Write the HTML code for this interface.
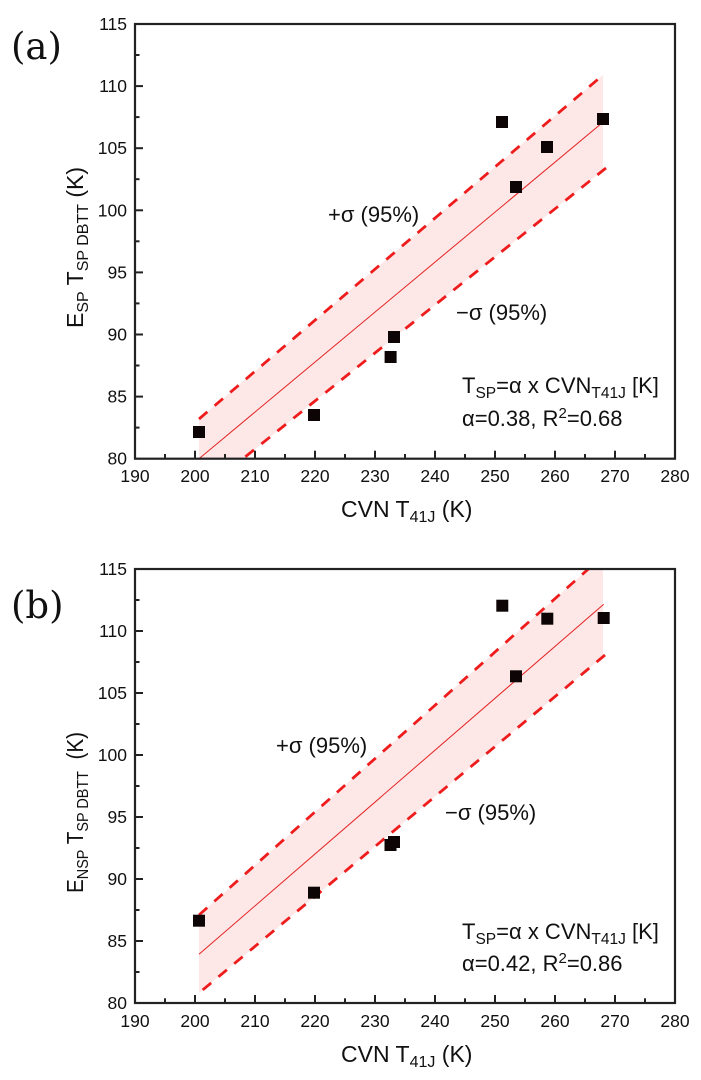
<!DOCTYPE html>
<html><head><meta charset="utf-8"><style>
html,body{margin:0;padding:0;background:#fff;}
svg{display:block;}
text{font-family:"Liberation Sans",Arial,sans-serif;fill:#111;}
</style></head><body>
<svg width="701" height="1080" viewBox="0 0 701 1080" xmlns="http://www.w3.org/2000/svg">
<defs>
<clipPath id="ca"><rect x="135" y="24" width="540" height="434.7"/></clipPath>
<clipPath id="cb"><rect x="135" y="569" width="540" height="434"/></clipPath>
</defs>

<!-- ============ PANEL A ============ -->
<g clip-path="url(#ca)">
  <polygon points="199,419 603,75 603,170.4 199,493.9" fill="#fde7e7"/>
  <line x1="199" y1="458.7" x2="602" y2="123" stroke="#e52222" stroke-width="1"/>
  <line x1="199" y1="419" x2="603" y2="75" stroke="#ee1c1c" stroke-width="2.8" stroke-dasharray="11 9.5"/>
  <line x1="606" y1="168" x2="199" y2="493.9" stroke="#ee1c1c" stroke-width="2.8" stroke-dasharray="11 9.5"/>
</g>
<g fill="#0d0505">
  <rect x="193" y="426" width="12" height="12"/>
  <rect x="308" y="409" width="12" height="12"/>
  <rect x="384.6" y="351" width="12" height="12"/>
  <rect x="388" y="331" width="12" height="12"/>
  <rect x="496" y="116" width="12" height="12"/>
  <rect x="510" y="181" width="12" height="12"/>
  <rect x="541" y="141" width="12" height="12"/>
  <rect x="597" y="113" width="12" height="12"/>
</g>
<rect x="135" y="24" width="540" height="434.7" fill="none" stroke="#222" stroke-width="2.2"/>
<g stroke="#222" stroke-width="2">
  <line x1="135" y1="86.1" x2="143" y2="86.1"/>
  <line x1="135" y1="148.2" x2="143" y2="148.2"/>
  <line x1="135" y1="210.3" x2="143" y2="210.3"/>
  <line x1="135" y1="272.4" x2="143" y2="272.4"/>
  <line x1="135" y1="334.5" x2="143" y2="334.5"/>
  <line x1="135" y1="396.6" x2="143" y2="396.6"/>
  <line x1="135" y1="55" x2="139.5" y2="55"/>
  <line x1="135" y1="117.1" x2="139.5" y2="117.1"/>
  <line x1="135" y1="179.2" x2="139.5" y2="179.2"/>
  <line x1="135" y1="241.3" x2="139.5" y2="241.3"/>
  <line x1="135" y1="303.4" x2="139.5" y2="303.4"/>
  <line x1="135" y1="365.5" x2="139.5" y2="365.5"/>
  <line x1="135" y1="427.6" x2="139.5" y2="427.6"/>
  <line x1="195" y1="458.7" x2="195" y2="450.7"/>
  <line x1="255" y1="458.7" x2="255" y2="450.7"/>
  <line x1="315" y1="458.7" x2="315" y2="450.7"/>
  <line x1="375" y1="458.7" x2="375" y2="450.7"/>
  <line x1="435" y1="458.7" x2="435" y2="450.7"/>
  <line x1="495" y1="458.7" x2="495" y2="450.7"/>
  <line x1="555" y1="458.7" x2="555" y2="450.7"/>
  <line x1="615" y1="458.7" x2="615" y2="450.7"/>
  <line x1="165" y1="458.7" x2="165" y2="454"/>
  <line x1="225" y1="458.7" x2="225" y2="454"/>
  <line x1="285" y1="458.7" x2="285" y2="454"/>
  <line x1="345" y1="458.7" x2="345" y2="454"/>
  <line x1="405" y1="458.7" x2="405" y2="454"/>
  <line x1="465" y1="458.7" x2="465" y2="454"/>
  <line x1="525" y1="458.7" x2="525" y2="454"/>
  <line x1="585" y1="458.7" x2="585" y2="454"/>
  <line x1="645" y1="458.7" x2="645" y2="454"/>
</g>
<g font-size="17.5" text-anchor="end">
  <text x="127" y="30">115</text>
  <text x="127" y="92.1">110</text>
  <text x="127" y="154.2">105</text>
  <text x="127" y="216.3">100</text>
  <text x="127" y="278.4">95</text>
  <text x="127" y="340.5">90</text>
  <text x="127" y="402.6">85</text>
  <text x="127" y="464.7">80</text>
</g>
<g font-size="17.5" text-anchor="middle">
  <text x="135" y="482">190</text>
  <text x="195" y="482">200</text>
  <text x="255" y="482">210</text>
  <text x="315" y="482">220</text>
  <text x="375" y="482">230</text>
  <text x="435" y="482">240</text>
  <text x="495" y="482">250</text>
  <text x="555" y="482">260</text>
  <text x="615" y="482">270</text>
  <text x="675" y="482">280</text>
</g>
<text x="11" y="59" font-size="37" style="font-family:'DejaVu Serif','Liberation Serif',serif">(a)</text>
<text x="341" y="517" font-size="23">CVN T<tspan font-size="16" dy="5">41J</tspan><tspan dy="-5"> (K)</tspan></text>
<text transform="translate(83,328) rotate(-90)" x="0" y="0" font-size="23">E<tspan font-size="16" dy="5">SP</tspan><tspan dy="-5"> T</tspan><tspan font-size="16" dy="5">SP DBTT</tspan><tspan dy="-5"> (K)</tspan></text>
<text x="328" y="222" font-size="22">+σ (95%)</text>
<text x="456" y="320" font-size="22">−σ (95%)</text>
<text x="462" y="393" font-size="22">T<tspan font-size="15.5" dy="5">SP</tspan><tspan dy="-5">=α x CVN</tspan><tspan font-size="15.5" dy="5">T41J</tspan><tspan dy="-5"> [K]</tspan></text>
<text x="462" y="426" font-size="22">α=0.38, R<tspan font-size="15" dy="-8">2</tspan><tspan dy="8">=0.68</tspan></text>

<!-- ============ PANEL B ============ -->
<g clip-path="url(#cb)">
  <polygon points="199,915 603,556 603,656.7 199,993" fill="#fde7e7"/>
  <line x1="199" y1="954.3" x2="603.7" y2="604.3" stroke="#e52222" stroke-width="1"/>
  <line x1="199" y1="915" x2="603" y2="556" stroke="#ee1c1c" stroke-width="2.8" stroke-dasharray="11 9.5"/>
  <line x1="605" y1="655" x2="199" y2="993" stroke="#ee1c1c" stroke-width="2.8" stroke-dasharray="11 9.5"/>
</g>
<g fill="#0d0505">
  <rect x="193" y="914.7" width="12" height="12"/>
  <rect x="308" y="886.7" width="12" height="12"/>
  <rect x="384.5" y="839" width="12" height="12"/>
  <rect x="388" y="836" width="12" height="12"/>
  <rect x="496.3" y="599.7" width="12" height="12"/>
  <rect x="510" y="670.3" width="12" height="12"/>
  <rect x="541.3" y="612.7" width="12" height="12"/>
  <rect x="597.7" y="612" width="12" height="12"/>
</g>
<rect x="135" y="569" width="540" height="434" fill="none" stroke="#222" stroke-width="2.2"/>
<g stroke="#222" stroke-width="2">
  <line x1="135" y1="631" x2="143" y2="631"/>
  <line x1="135" y1="693" x2="143" y2="693"/>
  <line x1="135" y1="755" x2="143" y2="755"/>
  <line x1="135" y1="817" x2="143" y2="817"/>
  <line x1="135" y1="879" x2="143" y2="879"/>
  <line x1="135" y1="941" x2="143" y2="941"/>
  <line x1="135" y1="600" x2="139.5" y2="600"/>
  <line x1="135" y1="662" x2="139.5" y2="662"/>
  <line x1="135" y1="724" x2="139.5" y2="724"/>
  <line x1="135" y1="786" x2="139.5" y2="786"/>
  <line x1="135" y1="848" x2="139.5" y2="848"/>
  <line x1="135" y1="910" x2="139.5" y2="910"/>
  <line x1="135" y1="972" x2="139.5" y2="972"/>
  <line x1="195" y1="1003" x2="195" y2="995"/>
  <line x1="255" y1="1003" x2="255" y2="995"/>
  <line x1="315" y1="1003" x2="315" y2="995"/>
  <line x1="375" y1="1003" x2="375" y2="995"/>
  <line x1="435" y1="1003" x2="435" y2="995"/>
  <line x1="495" y1="1003" x2="495" y2="995"/>
  <line x1="555" y1="1003" x2="555" y2="995"/>
  <line x1="615" y1="1003" x2="615" y2="995"/>
  <line x1="165" y1="1003" x2="165" y2="998.3"/>
  <line x1="225" y1="1003" x2="225" y2="998.3"/>
  <line x1="285" y1="1003" x2="285" y2="998.3"/>
  <line x1="345" y1="1003" x2="345" y2="998.3"/>
  <line x1="405" y1="1003" x2="405" y2="998.3"/>
  <line x1="465" y1="1003" x2="465" y2="998.3"/>
  <line x1="525" y1="1003" x2="525" y2="998.3"/>
  <line x1="585" y1="1003" x2="585" y2="998.3"/>
  <line x1="645" y1="1003" x2="645" y2="998.3"/>
</g>
<g font-size="17.5" text-anchor="end">
  <text x="127" y="575">115</text>
  <text x="127" y="637">110</text>
  <text x="127" y="699">105</text>
  <text x="127" y="761">100</text>
  <text x="127" y="823">95</text>
  <text x="127" y="885">90</text>
  <text x="127" y="947">85</text>
  <text x="127" y="1009">80</text>
</g>
<g font-size="17.5" text-anchor="middle">
  <text x="135" y="1027">190</text>
  <text x="195" y="1027">200</text>
  <text x="255" y="1027">210</text>
  <text x="315" y="1027">220</text>
  <text x="375" y="1027">230</text>
  <text x="435" y="1027">240</text>
  <text x="495" y="1027">250</text>
  <text x="555" y="1027">260</text>
  <text x="615" y="1027">270</text>
  <text x="675" y="1027">280</text>
</g>
<text x="11" y="618" font-size="37" style="font-family:'DejaVu Serif','Liberation Serif',serif">(b)</text>
<text x="341" y="1062" font-size="23">CVN T<tspan font-size="16" dy="5">41J</tspan><tspan dy="-5"> (K)</tspan></text>
<text transform="translate(83,893) rotate(-90) scale(0.9,1)" x="0" y="0" font-size="23" xml:space="preserve">E<tspan font-size="16" dy="5">NSP</tspan><tspan dy="-5"> T</tspan><tspan font-size="16" dy="5">SP DBTT</tspan><tspan dy="-5">  (K)</tspan></text>
<text x="276" y="753" font-size="22">+σ (95%)</text>
<text x="445" y="820" font-size="22">−σ (95%)</text>
<text x="462" y="939" font-size="22">T<tspan font-size="15.5" dy="5">SP</tspan><tspan dy="-5">=α x CVN</tspan><tspan font-size="15.5" dy="5">T41J</tspan><tspan dy="-5"> [K]</tspan></text>
<text x="462" y="971" font-size="22">α=0.42, R<tspan font-size="15" dy="-8">2</tspan><tspan dy="8">=0.86</tspan></text>
</svg>
</body></html>
